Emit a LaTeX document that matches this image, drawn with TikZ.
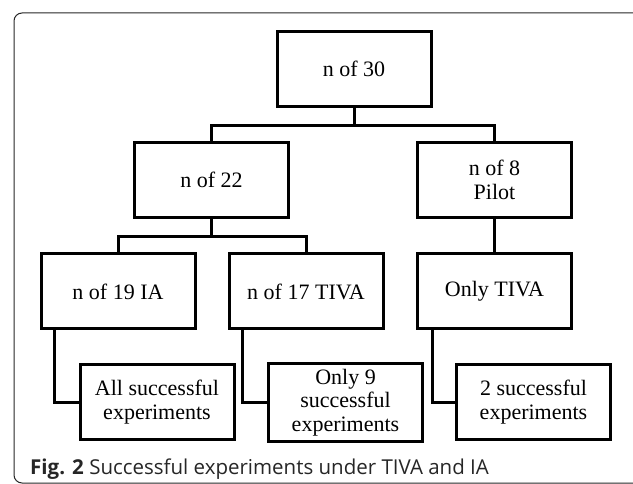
\documentclass[tikz,border=0pt]{standalone}
\usepackage{fontspec}
\setmainfont{Liberation Serif}
\newfontfamily\capfont{Open Sans}
\usetikzlibrary{positioning}
\tikzset{
  stage/.style={draw=black, line width=3pt, minimum width=154pt, minimum height=75pt,
    align=center, inner sep=2pt, font=\fontsize{22}{23.5}\selectfont},
  link/.style={draw=black, line width=3pt},
}

\begin{document}
\begin{tikzpicture}[x=1pt, y=-1pt]
        \useasboundingbox (0,0) rectangle (633,484);
        % frame of the figure
        \draw[black!85, line width=1pt, rounded corners=8pt] (660,13) -| (14,483) -- (660,483);
        % boxes
        \node[stage] (total) at (354,69) {n of 30};
        \node[stage] (n22) at (211.5,180) {n of 22};
        \node[stage] (pilot) at (494.5,180) {n of 8\\Pilot};
        \node[stage] (ia) at (118,291.5) {n of 19 IA};
        \node[stage] (tiva) at (306,291.5) {n of 17 TIVA};
        \node[stage] (onlytiva) at (494.5,291.5) {Only TIVA};
        \node[stage] (allok) at (157,402) {All successful\\experiments};
        \node[stage, minimum height=77pt] (nine) at (345.5,402.5) {Only 9\\successful\\experiments};
        \node[stage] (twook) at (533.5,402) {2 successful\\experiments};
        % connectors
        \draw[link] (total.south) -- ++(0,18) coordinate (j1);
        \draw[link] (n22.north) |- (j1) -| (pilot.north);
        \draw[link] (n22.south) -- ++(0,18) coordinate (j2);
        \draw[link] (ia.north) |- (j2) -| (tiva.north);
        \draw[link] (pilot.south) -- (onlytiva.north);
        \draw[link] ([xshift=15pt]ia.south west) |- (allok.west);
        \draw[link] ([xshift=15pt]tiva.south west) |- (nine.west);
        \draw[link] ([xshift=16pt]onlytiva.south west) |- (twook.west);
        % caption
        \node[anchor=base west, inner sep=0pt, text=black!85, font=\capfont\fontsize{20.5}{23}\selectfont] (caption) at (30,475)
          {\textbf{Fig. 2} Successful experiments under TIVA and IA};
      \end{tikzpicture}
\end{document}
